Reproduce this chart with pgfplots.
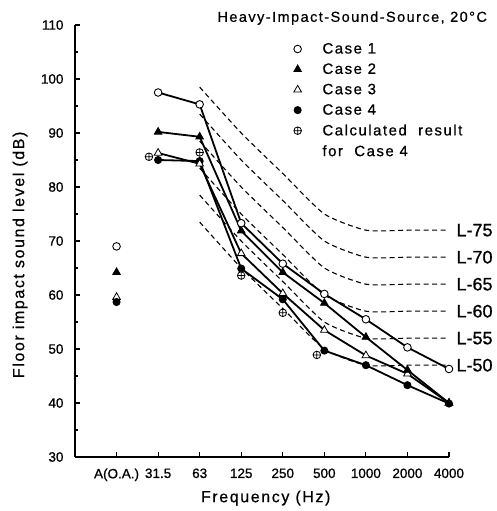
\documentclass[border=0pt]{standalone}
\usepackage{fontspec}
\setmainfont{Liberation Sans}
\newfontfamily\lsfont[LetterSpace=10, FakeBold=0.6]{Liberation Sans}
\newfontfamily\tkfont[FakeBold=0.8]{Liberation Sans}
\usepackage{pgfplots}
\pgfplotsset{compat=1.18}
\usepackage{pgfplotstable}

% measured cases, x = 1 (31.5 Hz) ... 8 (4000 Hz)
\pgfplotstableread{
x   c1    c2    c3    c4
1   97.5  90.2  86.3  85.0
2   95.3  89.3  84.3  84.8
3   73.3  71.9  67.7  64.9
4   65.8  64.2  60.3  59.2
5   60.2  58.5  53.5  49.7
6   55.5  52.2  48.8  47.0
7   50.3  46.1  45.4  43.3
8   46.3  40.0  40.0  39.9
}\casedata

% calculated result for case 4
\pgfplotstableread{
x     y
0.78  85.6
2     86.4
3     63.6
4     56.7
4.82  48.9
}\calcdata

% L-curves, x = 2 (63 Hz) ... 8 (4000 Hz)
\pgfplotstableread{
x  L50   L55   L60   L65   L70   L75
2  73.5  78.5  83.5  88.5  93.5  98.5
3  65.0  70.0  75.0  80.0  85.0  90.0
4  57.5  62.5  67.5  72.5  77.5  82.5
5  50.0  55.0  60.0  65.0  70.0  75.0
6  47.0  52.0  57.0  62.0  67.0  72.0
7  47.0  52.0  57.0  62.0  67.0  72.0
8  47.0  52.0  57.0  62.0  67.0  72.0
}\lcurves

\begin{document}
\begin{tikzpicture}
\useasboundingbox (-75pt,-54pt) rectangle (422pt,457pt);
\begin{axis}[
  at={(0,0)}, anchor=south west,
  scale only axis, width=374pt, height=432pt,
  xmin=-1, xmax=8, ymin=30, ymax=110,
  axis lines=left, axis line style={-, line width=1.6pt},
  xtick={0,...,8},
  xticklabels={A(O.A.),31.5,63,125,250,500,1000,2000,4000},
  ytick={30,40,...,110}, minor ytick={35,45,...,105},
  tick align=inside, major tick length=5pt, minor tick length=3.5pt,
  tick style={line width=1.1pt, black},
  /pgf/number format/assume math mode=true,
  tick label style={font=\tkfont\fontsize{13.5}{13.5}\selectfont},
  yticklabel style={xshift=-8pt},
  xticklabel style={yshift=-8pt},
  xlabel={Frequency (Hz)},
  ylabel={Floor impact sound level (dB)},
  xlabel style={at={(rel axis cs:0.51,-0.095)}, anchor=center, font=\lsfont\fontsize{16}{16}\selectfont},
  ylabel style={at={(rel axis cs:-0.147,0.468)}, anchor=center, font=\lsfont\fontsize{16}{16}\selectfont},
  clip=false,
  legend style={draw=none, fill=none, at={(rel axis cs:0.564,0.968)}, anchor=north west,
    font=\lsfont\fontsize{15}{15}\selectfont, row sep=4.4pt,
    /tikz/every odd column/.append style={column sep=19pt}},
  legend cell align=left,
]
% L-curves
\foreach \c in {L50,L55,L60,L65,L70,L75}{
  \addplot[forget plot, black, line width=1.1pt, dash pattern=on 5pt off 3.5pt, smooth, tension=0.35]
    table[x=x, y=\c] {\lcurves};
}
\node[anchor=west, font=\tkfont\fontsize{18}{18}\selectfont] at (axis cs:8,47) [xshift=4pt] {L-50};
\node[anchor=west, font=\tkfont\fontsize{18}{18}\selectfont] at (axis cs:8,52) [xshift=4pt] {L-55};
\node[anchor=west, font=\tkfont\fontsize{18}{18}\selectfont] at (axis cs:8,57) [xshift=4pt] {L-60};
\node[anchor=west, font=\tkfont\fontsize{18}{18}\selectfont] at (axis cs:8,62) [xshift=4pt] {L-65};
\node[anchor=west, font=\tkfont\fontsize{18}{18}\selectfont] at (axis cs:8,67) [xshift=4pt] {L-70};
\node[anchor=west, font=\tkfont\fontsize{18}{18}\selectfont] at (axis cs:8,72) [xshift=4pt] {L-75};

% case lines
\addplot[forget plot, black, line width=1.8pt, mark=*, mark size=3.6pt,
  mark options={solid, fill=black, line width=0.8pt}] table[x=x, y=c4] {\casedata};
\addplot[forget plot, black, line width=1.8pt, mark=triangle*, mark size=4.4pt,
  mark options={solid, fill=white, line width=0.8pt}] table[x=x, y=c3] {\casedata};
\addplot[forget plot, black, line width=1.8pt, mark=triangle*, mark size=4.4pt,
  mark options={solid, fill=black, line width=0.8pt}] table[x=x, y=c2] {\casedata};
\addplot[forget plot, black, line width=1.8pt, mark=*, mark size=3.8pt,
  mark options={solid, fill=white, line width=0.9pt}] table[x=x, y=c1] {\casedata};

% overall A-weighted levels (legend entries)
\addplot[only marks, mark=*, mark size=3.8pt, mark options={fill=white, draw=black, line width=0.9pt}]
  coordinates {(0,69.0)};
\addlegendentry{Case 1}
\addplot[only marks, mark=triangle*, mark size=4.4pt, mark options={fill=black, draw=black, line width=0.8pt}]
  coordinates {(0,64.2)};
\addlegendentry{Case 2}
\addplot[only marks, mark=triangle*, mark size=4.4pt, mark options={fill=white, draw=black, line width=0.8pt}]
  coordinates {(0,59.6)};
\addlegendentry{Case 3}
\addplot[only marks, mark=*, mark size=3.6pt, mark options={fill=black, draw=black, line width=0.8pt}]
  coordinates {(0,58.7)};
\addlegendentry{Case 4}
\addplot[only marks, mark=oplus*, mark size=3.8pt, mark options={fill=white, draw=black, line width=0.8pt}]
  table[x=x, y=y] {\calcdata};
\addlegendentry{Calculated\ \ result}
\addlegendimage{empty legend}
\addlegendentry{for\ \ Case 4}

\node[anchor=east, font=\lsfont\fontsize{14.5}{14.5}\selectfont, /tikz/inner sep=0pt] at (rel axis cs:1.102,1.016)
  {Heavy-Impact-Sound-Source,\ 20°C};
\end{axis}
\end{tikzpicture}
\end{document}
